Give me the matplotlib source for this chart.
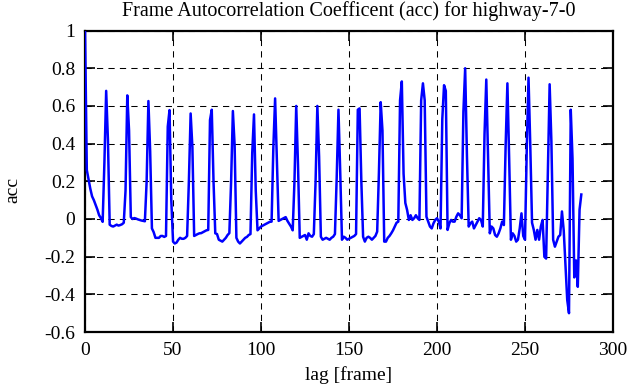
import matplotlib
matplotlib.use("Agg")
import matplotlib.pyplot as plt
import numpy as np

# autocorrelation coefficient per lag (lag 0 .. 282)
acc = [
    1.0, 0.26, 0.21, 0.16, 0.12, 0.10, 0.075, 0.05, 0.02, 0.005, -0.015, 0.30,
    0.68, 0.42, -0.03, -0.037, -0.04, -0.035, -0.03, -0.035, -0.032, -0.028, -0.02, 0.15,
    0.656, 0.47, 0.01, 0.0, 0.005, 0.002, -0.002, -0.005, -0.008, -0.01, -0.012, 0.20,
    0.626, 0.36, -0.05, -0.07, -0.1, -0.1, -0.1, -0.09, -0.09, -0.095, -0.09, 0.49,
    0.578, 0.10, -0.12, -0.13, -0.125, -0.11, -0.10, -0.105, -0.105, -0.10, -0.09, 0.20,
    0.56, 0.38, -0.09, -0.085, -0.08, -0.076, -0.075, -0.07, -0.065, -0.06, -0.058, 0.525,
    0.58, 0.20, -0.076, -0.08, -0.11, -0.115, -0.12, -0.11, -0.10, -0.085, -0.075, 0.20,
    0.573, 0.39, -0.10, -0.12, -0.13, -0.12, -0.11, -0.10, -0.095, -0.085, -0.08, 0.35,
    0.555, 0.15, -0.06, -0.05, -0.04, -0.035, -0.03, -0.025, -0.02, -0.015, -0.014, 0.38,
    0.64, 0.31, -0.01, -0.005, 0.0, 0.005, 0.01, -0.01, -0.025, -0.04, -0.06, 0.20,
    0.60, 0.29, -0.10, -0.095, -0.09, -0.085, -0.11, -0.076, -0.09, -0.094, -0.08, 0.20,
    0.60, 0.33, -0.094, -0.11, -0.105, -0.10, -0.105, -0.11, -0.10, -0.094, -0.08, 0.22,
    0.58, 0.25, -0.11, -0.094, -0.10, -0.11, -0.105, -0.10, -0.095, -0.09, -0.08, 0.58,
    0.587, 0.20, -0.094, -0.12, -0.10, -0.094, -0.10, -0.11, -0.10, -0.09, -0.067, 0.25,
    0.62, 0.47, -0.12, -0.12, -0.10, -0.09, -0.076, -0.06, -0.04, -0.02, -0.014, 0.63,
    0.73, 0.24, 0.085, 0.048, -0.005, 0.02, -0.005, 0.004, 0.02, 0.004, -0.005, 0.63,
    0.72, 0.63, 0.012, -0.014, -0.04, -0.05, -0.023, -0.005, 0.004, -0.014, -0.05, 0.53,
    0.71, 0.68, -0.058, -0.023, -0.005, -0.014, -0.014, 0.012, 0.03, 0.02, 0.004, 0.57,
    0.80, 0.34, -0.04, -0.023, -0.014, -0.05, -0.032, -0.014, 0.004, -0.005, -0.04, 0.45,
    0.74, 0.32, -0.076, -0.04, -0.05, -0.085, -0.094, -0.076, -0.05, -0.014, -0.032, 0.39,
    0.72, 0.32, -0.11, -0.076, -0.09, -0.12, -0.11, -0.05, 0.03, -0.09, -0.11, 0.37,
    0.75, 0.39, -0.02, -0.058, -0.11, -0.058, -0.11, -0.04, -0.005, -0.20, -0.21, 0.25,
    0.715, 0.41, -0.11, -0.147, -0.12, -0.094, -0.085, 0.04, -0.06, -0.25, -0.43, -0.50,
    0.58, 0.32, -0.31, -0.22, -0.36, 0.05, 0.13,
]
lags = np.arange(len(acc))

x_ticks = [0, 50, 100, 150, 200, 250, 300]
y_ticks = [-0.6, -0.4, -0.2, 0, 0.2, 0.4, 0.6, 0.8, 1]
y_tick_labels = ['-0.6', '-0.4', '-0.2', '0', '0.2', '0.4', '0.6', '0.8', '1']

plt.rcParams['font.family'] = ['Liberation Serif', 'DejaVu Serif']

fig = plt.figure(figsize=(6.3, 3.87), dpi=100)
ax = fig.add_axes([0.135, 0.142, 0.838, 0.779])

ax.plot(lags, acc, color='#0000ff', lw=1.8, zorder=3)

ax.set_xlim(0, 300)
ax.set_ylim(-0.6, 1)
ax.set_xticks(x_ticks)
ax.set_yticks(y_ticks)
ax.set_yticklabels(y_tick_labels)

# gnuplot look: dashed black grid, inward mirrored ticks
ax.grid(True, color='black', linestyle=(0, (6, 5)), lw=0.75)
ax.tick_params(direction='in', top=True, right=True, length=7, width=1.2,
               labelsize=14, pad=7)
for s in ax.spines.values():
    s.set_linewidth(1.6)

fig.text(0.554, 0.9716, 'Frame Autocorrelation Coefficent (acc) for highway-7-0',
         ha='center', va='center', fontsize=14.5)
fig.text(0.554, 0.031, 'lag [frame]', ha='center', va='center', fontsize=14)
fig.text(0.021, 0.509, 'acc', ha='center', va='center', rotation=90, fontsize=14)

fig.savefig('out.png', dpi=100)
